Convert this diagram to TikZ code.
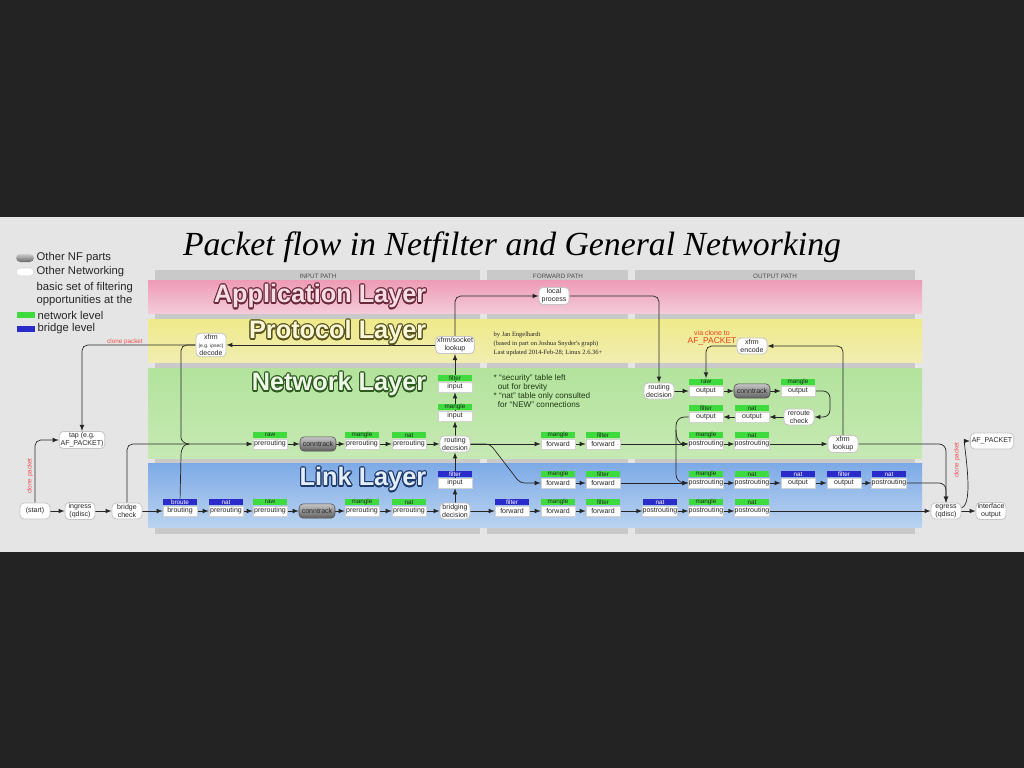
\documentclass[tikz,border=0pt]{standalone}
\usepackage{fontspec}
\setmainfont{Liberation Sans}
\newfontfamily\serifface{Liberation Serif}
\usepackage{contour}
\contourlength{0.8pt}
\usetikzlibrary{positioning}
\definecolor{framebg}{HTML}{232323}
\definecolor{paper}{HTML}{E5E5E5}
\definecolor{colgray}{HTML}{C9C9C9}
\definecolor{nfgreen}{HTML}{3DDB3D}
\definecolor{nfblue}{HTML}{2B2BC9}
\definecolor{apptop}{HTML}{EE9BB6}
\definecolor{appbot}{HTML}{F3CAD8}
\definecolor{prototop}{HTML}{EFEA8A}
\definecolor{protobot}{HTML}{F1EDB0}
\definecolor{nettop}{HTML}{B3E39D}
\definecolor{netbot}{HTML}{C6E9B3}
\definecolor{linktop}{HTML}{7DAAE6}
\definecolor{linkbot}{HTML}{BAD3F0}
\definecolor{appline}{HTML}{6B2A3A}
\definecolor{appfill}{HTML}{F8DCE6}
\definecolor{protoline}{HTML}{5A5520}
\definecolor{protofill}{HTML}{FBF8D8}
\definecolor{netline}{HTML}{2D5A1E}
\definecolor{netfill}{HTML}{EEF8E8}
\definecolor{linkline}{HTML}{1E3A6A}
\definecolor{linkfill}{HTML}{E4EEFB}
\definecolor{clonered}{HTML}{F05050}
\definecolor{viaorange}{HTML}{E8401C}
\definecolor{notegreen}{HTML}{1E3A12}

\pgfdeclarelayer{bands}
\pgfdeclarelayer{lines}
\pgfsetlayers{bands,lines,main}

% table node: name, position, colour, table, chain
\newcommand{\nftable}[5]{%
  \node[chain] (#1) at (#2) {#5};
  \node[#3hdr] (#1h) at (#1.north) {#4};}

\begin{document}
\begin{tikzpicture}[
    x=0.025cm, y=-0.025cm,
    every node/.style={font=\fontsize{5}{5.5}\selectfont, align=center, inner sep=1pt, text=black!85},
    plain/.style={draw=gray!45, line width=0.6pt, fill=white, rounded corners=3pt, minimum width=0.75cm, minimum height=0.4cm},
    ctrack/.style={draw=gray!60!black, top color=gray!45, bottom color=gray!75!black, rounded corners=3pt, minimum width=0.9cm, minimum height=0.36cm},
    chain/.style={draw=gray!35, fill=white, minimum width=0.85cm, minimum height=0.25cm, inner sep=0pt},
    greenhdr/.style={anchor=south, fill=nfgreen, minimum width=0.85cm, minimum height=0.17cm, inner sep=0pt, font=\fontsize{4.5}{4.5}\selectfont},
    bluehdr/.style={greenhdr, fill=nfblue, text=white},
    arrow/.style={->, >=latex, line width=0.5pt, color=black!85},
    wire/.style={line width=0.5pt, color=black!85},
    layertitle/.style={anchor=east, font=\fontsize{18}{18}\selectfont\bfseries},
    clone/.style={text=clonered, font=\fontsize{4.5}{4.5}\selectfont},
    pathhead/.style={text=black!70, font=\fontsize{4.5}{4.5}\selectfont},
    legend/.style={anchor=west, font=\fontsize{8}{8}\selectfont}
]
% frame, paper, columns and layers
\begin{pgfonlayer}{bands}
\fill[framebg] (0,0) rectangle (1024,768);
\fill[paper] (0,217) rectangle (1024,552);
\fill[colgray] (155,270) rectangle (480,534);
\fill[colgray] (487,270) rectangle (628,534);
\fill[colgray] (635,270) rectangle (915,534);
\shade[top color=apptop, bottom color=appbot] (148,280) rectangle (922,313);
\shade[top color=prototop, bottom color=protobot] (148,319) rectangle (922,362);
\shade[top color=nettop, bottom color=netbot] (148,368) rectangle (922,458);
\shade[top color=linktop, bottom color=linkbot] (148,463) rectangle (922,527);
\end{pgfonlayer}
\node[pathhead] (inhead) at (318,276) {INPUT PATH};
\node[pathhead] (fwdhead) at (558,276) {FORWARD PATH};
\node[pathhead] (outhead) at (775,276) {OUTPUT PATH};

\node[layertitle, text=appfill] (applayer) at (428,297) {\contour{appline}{Application Layer}};
\node[layertitle, text=protofill] (protolayer) at (428,333) {\contour{protoline}{Protocol Layer}};
\node[layertitle, text=netfill] (netlayer) at (428,385) {\contour{netline}{Network Layer}};
\node[layertitle, text=linkfill] (linklayer) at (428,480) {\contour{linkline}{Link Layer}};

% title and legend
\node[font=\serifface\itshape\fontsize{24}{24}\selectfont, text=black] (title) at (512,247) {Packet flow in Netfilter and General Networking};
\node[top color=gray!40, bottom color=gray!80!black, rounded corners=3pt, minimum width=0.45cm, minimum height=0.2cm] (lgnf) at (25,258) {};
\node[fill=white, draw=gray!30, rounded corners=3pt, minimum width=0.45cm, minimum height=0.2cm] (lgnet) at (25,272) {};
\node[fill=nfgreen, minimum width=0.45cm, minimum height=0.15cm] (lggreen) at (26,315) {};
\node[fill=nfblue, minimum width=0.45cm, minimum height=0.15cm] (lgblue) at (26,329) {};
\node[legend] at (35,258) {Other NF parts};
\node[legend] at (35,272) {Other Networking};
\node[legend, align=left, font=\fontsize{8}{9.3}\selectfont] at (35,294.5) {basic set of filtering\\opportunities at the};
\node[legend] at (36,315) {network level};
\node[legend] at (36,329) {bridge level};

% notes
\node[anchor=west, align=left, font=\serifface\fontsize{4.6}{6.4}\selectfont] (credits) at (492,344) {by Jan Engelhardt\\(based in part on Joshua Snyder's graph)\\Last updated 2014-Feb-28; Linux 2.6.36+};
\node[anchor=west, align=left, text=notegreen, font=\fontsize{5.8}{6.5}\selectfont] (notes) at (492,391) {* ``security'' table left\\\hspace*{3pt}out for brevity\\* ``nat'' table only consulted\\\hspace*{3pt}for ``NEW'' connections};
\node[text=viaorange, font=\fontsize{5}{5.5}\selectfont] (via) at (712,338) {via clone to\\{\fontsize{6}{6}\selectfont AF\_PACKET}};
\node[clone] (clonetop) at (125,342) {clone packet};
\node[clone, rotate=90] (cloneleft) at (30,476) {clone packet};
\node[clone, rotate=90] (cloneright) at (957,460) {clone packet};

% other networking
\node[plain] (start) at (35,511) {(start)};
\node[plain] (ingress) at (80,511) {ingress\\(qdisc)};
\node[plain] (bcheck) at (127,511) {bridge\\check};
\node[plain] (tap) at (82,440) {tap (e.g.\\AF\_PACKET)};
\node[plain] (decode) at (211,345) {xfrm\\{\fontsize{3.5}{3.5}\selectfont(e.g. ipsec)}\\decode};
\node[plain] (lookup) at (455,345) {xfrm/socket\\lookup};
\node[plain] (lproc) at (554,296) {local\\process};
\node[plain] (rdin) at (455,444) {routing\\decision};
\node[plain] (bdec) at (455,511) {bridging\\decision};
\node[plain] (rdout) at (659,391) {routing\\decision};
\node[plain] (reroute) at (799,417) {reroute\\check};
\node[plain] (encode) at (752,346) {xfrm\\encode};
\node[plain] (xlookup) at (843,444) {xfrm\\lookup};
\node[plain] (egress) at (946,511) {egress\\(qdisc)};
\node[plain] (ifout) at (991,511) {interface\\output};
\node[plain] (afpkt) at (992,441) {AF\_PACKET};

% conntrack
\node[ctrack] (ct1) at (317,511) {conntrack};
\node[ctrack] (ct2) at (318,444) {conntrack};
\node[ctrack] (ct3) at (752,391) {conntrack};

% link layer, bottom row
\nftable{lbrout}{180,511}{blue}{broute}{brouting}
\nftable{lnatpre}{226,511}{blue}{nat}{prerouting}
\nftable{lrawpre}{270,511}{green}{raw}{prerouting}
\nftable{lmanpre}{362,511}{green}{mangle}{prerouting}
\nftable{lnatpre2}{409,511}{green}{nat}{prerouting}
\nftable{lfilin}{455,483}{blue}{filter}{input}
\nftable{lfilfwd}{512,511}{blue}{filter}{forward}
\nftable{lmanfwd}{558,511}{green}{mangle}{forward}
\nftable{lfilfwd2}{603,511}{green}{filter}{forward}
\nftable{lnatpost}{660,511}{blue}{nat}{postrouting}
\nftable{lmanpost}{706,511}{green}{mangle}{postrouting}
\nftable{lnatpost2}{752,511}{green}{nat}{postrouting}

% link layer, upper row
\nftable{lmanfwd2}{558,483}{green}{mangle}{forward}
\nftable{lfilfwd3}{603,483}{green}{filter}{forward}
\nftable{lmanpost2}{706,483}{green}{mangle}{postrouting}
\nftable{lnatpost3}{752,483}{green}{nat}{postrouting}
\nftable{lnatout}{798,483}{blue}{nat}{output}
\nftable{lfilout}{844,483}{blue}{filter}{output}
\nftable{lnatpost4}{889,483}{blue}{nat}{postrouting}

% network layer
\nftable{nrawpre}{270,444}{green}{raw}{prerouting}
\nftable{nmanpre}{362,444}{green}{mangle}{prerouting}
\nftable{nnatpre}{409,444}{green}{nat}{prerouting}
\nftable{nmanin}{455,416}{green}{mangle}{input}
\nftable{nfilin}{455,387}{green}{filter}{input}
\nftable{nmanfwd}{558,444}{green}{mangle}{forward}
\nftable{nfilfwd}{603,444}{green}{filter}{forward}
\nftable{nmanpost}{706,444}{green}{mangle}{postrouting}
\nftable{nnatpost}{752,444}{green}{nat}{postrouting}
\nftable{nrawout}{706,391}{green}{raw}{output}
\nftable{nmanout}{798,391}{green}{mangle}{output}
\nftable{nnatout}{752,417}{green}{nat}{output}
\nftable{nfilout}{706,417}{green}{filter}{output}

\coordinate (mrg) at (189,444);

\begin{pgfonlayer}{lines}
% bottom row
\draw[arrow] (start) -- (ingress);
\draw[arrow] (ingress) -- (bcheck);
\draw[arrow] (bcheck) -- (lbrout);
\draw[arrow] (lbrout) -- (lnatpre);
\draw[arrow] (lnatpre) -- (lrawpre);
\draw[arrow] (lrawpre) -- (ct1);
\draw[arrow] (ct1) -- (lmanpre);
\draw[arrow] (lmanpre) -- (lnatpre2);
\draw[arrow] (lnatpre2) -- (bdec);
\draw[arrow] (bdec) -- (lfilfwd);
\draw[arrow] (lfilfwd) -- (lmanfwd);
\draw[arrow] (lmanfwd) -- (lfilfwd2);
\draw[arrow] (lfilfwd2) -- (lnatpost);
\draw[arrow] (lnatpost) -- (lmanpost);
\draw[arrow] (lmanpost) -- (lnatpost2);
\draw[arrow] (lnatpost2) -- (egress);
\draw[arrow] (egress) -- (ifout);
\draw[arrow] (egress) .. controls (975,505) and (963,441) .. (afpkt);
\draw[arrow, rounded corners=4] (start) |- (tap);
% up into the network layer
\draw[arrow, rounded corners=4] (bcheck) |- (nrawpre);
\draw[wire, rounded corners=4] (decode) -| (181,432) .. controls (181,440) and (184,444) .. (mrg);
\draw[wire] (lbrouth) -- (181,456) .. controls (181,448) and (184,444) .. (mrg);
\draw[arrow, rounded corners=4] (decode) -| (tap);
\draw[arrow] (bdec) -- (lfilin);
\draw[arrow] (lfilin) -- (rdin);
% network input
\draw[arrow] (nrawpre) -- (ct2);
\draw[arrow] (ct2) -- (nmanpre);
\draw[arrow] (nmanpre) -- (nnatpre);
\draw[arrow] (nnatpre) -- (rdin);
\draw[arrow] (rdin) -- (nmanin);
\draw[arrow] (nmanin) -- (nfilin);
\draw[arrow] (nfilin) -- (lookup);
\draw[arrow] (lookup) -- (decode);
\draw[arrow, rounded corners=4] (lookup) |- (lproc);
% forward
\draw[arrow] (rdin) -- (nmanfwd);
\draw[arrow] (nmanfwd) -- (nfilfwd);
\draw[arrow] (nfilfwd) -- (nmanpost);
\draw[arrow] (nmanpost) -- (nnatpost);
\draw[arrow] (nnatpost) -- (xlookup);
\draw[arrow, rounded corners=3] (rdin) -- (490,444) -- (520,483) -- (lmanfwd2);
\draw[arrow] (lmanfwd2) -- (lfilfwd3);
\draw[arrow] (lfilfwd3) -- (lmanpost2);
\draw[arrow] (lmanpost2) -- (lnatpost3);
\draw[arrow] (lnatpost3) -- (lnatout);
\draw[arrow] (lnatout) -- (lfilout);
\draw[arrow] (lfilout) -- (lnatpost4);
\draw[arrow, rounded corners=5] (lnatpost4) -| (egress);
\draw[arrow, rounded corners=5] (xlookup) -| (egress);
% output
\draw[arrow, rounded corners=4] (lproc) -| (rdout);
\draw[arrow] (rdout) -- (nrawout);
\draw[arrow] (nrawout) -- (ct3);
\draw[arrow] (ct3) -- (nmanout);
\draw[arrow, rounded corners=5] (nmanout) -- (830,391) -- (830,417) -- (reroute);
\draw[arrow] (reroute) -- (nnatout);
\draw[arrow] (nnatout) -- (nfilout);
\draw[arrow, rounded corners=6] (nfilout) -| (676,483) -- (lmanpost2);
\draw[arrow] (676,430) .. controls (676,440) and (680,444) .. (nmanpost);
\draw[arrow, rounded corners=4] (encode) -| (nrawouth);
\draw[arrow, rounded corners=4] (xlookup) |- (encode);
\end{pgfonlayer}
\end{tikzpicture}
\end{document}
